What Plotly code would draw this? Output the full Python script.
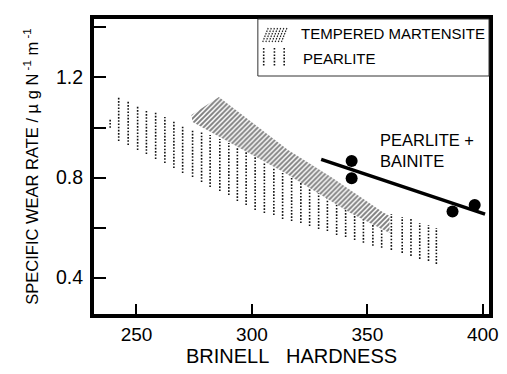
import plotly.graph_objects as go

# ---------------- data ----------------
# Pearlite band: vertical dotted bars (hardness, upper and lower wear rate)
pearlite_hb = [238.6, 242.3, 246.4, 250.5, 254.3, 258.3, 262.3, 266.2, 270.0, 274.3,
               278.2, 281.9, 286.1, 290.0, 293.7, 297.5, 301.4, 305.4, 309.5, 313.3,
               317.2, 321.2, 325.0, 328.9, 332.7, 336.7, 340.6, 344.5, 348.3, 352.4,
               356.2, 360.4, 365.1, 368.9, 372.7, 376.5, 379.9]
pearlite_top = [1.034, 1.122, 1.106, 1.086, 1.066, 1.062, 1.042, 1.030, 1.010, 0.994,
                0.982, 0.970, 0.954, 0.938, 0.922, 0.902, 0.882, 0.858, 0.838, 0.818,
                0.802, 0.782, 0.778, 0.750, 0.730, 0.722, 0.698, 0.678, 0.662, 0.654,
                0.646, 0.654, 0.642, 0.638, 0.618, 0.610, 0.598]
pearlite_bot = [0.999, 0.946, 0.930, 0.910, 0.894, 0.874, 0.858, 0.838, 0.818, 0.802,
                0.782, 0.762, 0.746, 0.730, 0.706, 0.690, 0.670, 0.658, 0.650, 0.634,
                0.626, 0.618, 0.606, 0.594, 0.586, 0.570, 0.562, 0.550, 0.539, 0.527,
                0.519, 0.511, 0.499, 0.487, 0.475, 0.467, 0.455]

# Tempered martensite band outline
mart_hb = [273.8, 285.7, 315.7, 334.3, 356.6, 359.6, 359.6, 342.7, 314.4, 274.3]
mart_rate = [1.050, 1.122, 0.910, 0.802, 0.662, 0.646, 0.578, 0.658, 0.818, 1.022]

# Pearlite + bainite measurements and trend line
pb_hb = [343.2, 343.2, 386.9, 396.5]
pb_rate = [0.866, 0.797, 0.664, 0.690]
pb_line_hb = [330.0, 401.0]
pb_line_rate = [0.873, 0.654]

x_ticks = [250, 300, 350, 400]
y_ticks = [0.4, 0.8, 1.2]
y_minor_ticks = [0.6, 1.0, 1.4]

# ---------------- layout geometry ----------------
W, H = 507, 374
L, R, T, B = 94, 499, 19, 314   # plot area in pixels


def px(xp):
    return (xp - L) / (R - L)


def py(yp):
    return (B - yp) / (B - T)


FONT = "Liberation Sans, Arial, Helvetica, sans-serif"

fig = go.Figure()

# pearlite dotted bars
xs, ys = [], []
for h, t, b in zip(pearlite_hb, pearlite_top, pearlite_bot):
    xs += [h, h, None]
    ys += [b, t, None]
fig.add_trace(go.Scatter(x=xs, y=ys, mode="lines",
                         line=dict(color="#111", width=1.6, dash="1.6px,1.6px"),
                         hoverinfo="skip", showlegend=False))

# tempered martensite hatched band
fig.add_trace(go.Scatter(x=mart_hb + [mart_hb[0]], y=mart_rate + [mart_rate[0]],
                         mode="lines", fill="toself", fillcolor="white",
                         line=dict(width=0, color="rgba(0,0,0,0)"),
                         fillpattern=dict(shape="/", fgcolor="#000", bgcolor="white",
                                          size=3.5, solidity=0.55),
                         hoverinfo="skip", showlegend=False))

# pearlite + bainite trend line and points
fig.add_trace(go.Scatter(x=pb_line_hb, y=pb_line_rate, mode="lines",
                         line=dict(color="black", width=3.5),
                         hoverinfo="skip", showlegend=False))
fig.add_trace(go.Scatter(x=pb_hb, y=pb_rate, mode="markers",
                         marker=dict(color="black", size=12),
                         hoverinfo="skip", showlegend=False))

shapes = []
# legend box
shapes.append(dict(type="rect", xref="paper", yref="paper",
                   x0=px(262), x1=1.0, y0=py(76), y1=1.0,
                   line=dict(color="#333", width=1), fillcolor="white", layer="above"))
# martensite swatch (diagonal hatch)
for i in range(7):
    x0 = 267 + i * 3.2
    shapes.append(dict(type="line", xref="paper", yref="paper",
                       x0=px(x0), y0=py(42), x1=px(x0 + 6), y1=py(27),
                       line=dict(color="#222", width=1.2, dash="1.5px,1.2px"), layer="above"))
# pearlite swatch (vertical dotted)
for xp in [268, 279, 289]:
    shapes.append(dict(type="line", xref="paper", yref="paper",
                       x0=px(xp), y0=py(48), x1=px(xp), y1=py(66),
                       line=dict(color="#111", width=1.6, dash="1.6px,1.6px"), layer="above"))

annotations = [
    dict(text="TEMPERED MARTENSITE", xref="paper", yref="paper", x=px(304), y=py(34),
         xanchor="left", yanchor="middle", showarrow=False,
         font=dict(family=FONT, size=15, color="black")),
    dict(text="PEARLITE", xref="paper", yref="paper", x=px(306), y=py(58),
         xanchor="left", yanchor="middle", showarrow=False,
         font=dict(family=FONT, size=15, color="black")),
    dict(text="PEARLITE +<br>BAINITE", xref="x", yref="y", x=354.6, y=0.910,
         xanchor="left", yanchor="middle", align="left", showarrow=False,
         font=dict(family=FONT, size=16.5, color="black")),
]

fig.update_layout(
    width=W, height=H,
    margin=dict(l=L, r=W - R, t=T, b=H - B, pad=0),
    paper_bgcolor="white", plot_bgcolor="white",
    font=dict(family=FONT, color="black"),
    shapes=shapes, annotations=annotations,
    xaxis=dict(range=[231.6, 402.7], tickvals=x_ticks, ticks="inside", ticklen=10,
               tickwidth=2, tickcolor="black", showgrid=False, zeroline=False,
               showline=True, linewidth=4, linecolor="black", mirror=True,
               tickfont=dict(family=FONT, size=19),
               title=dict(text="BRINELL&nbsp;&nbsp;&nbsp;HARDNESS",
                          font=dict(family=FONT, size=20), standoff=2)),
    yaxis=dict(range=[0.2547, 1.4338], tickvals=y_ticks, ticks="inside", ticklen=12,
               tickwidth=2, tickcolor="black", ticklabelstandoff=3,
               minor=dict(tickvals=y_minor_ticks, ticks="inside", ticklen=12,
                          tickwidth=2, tickcolor="black", showgrid=False),
               showgrid=False, zeroline=False,
               showline=True, linewidth=4, linecolor="black", mirror=True,
               tickfont=dict(family=FONT, size=19.5),
               title=dict(text="SPECIFIC WEAR RATE / \u00b5 g N<sup> -1</sup> m<sup> -1</sup>",
                          font=dict(family=FONT, size=16.5), standoff=14)),
)

fig.write_html("out.html")
